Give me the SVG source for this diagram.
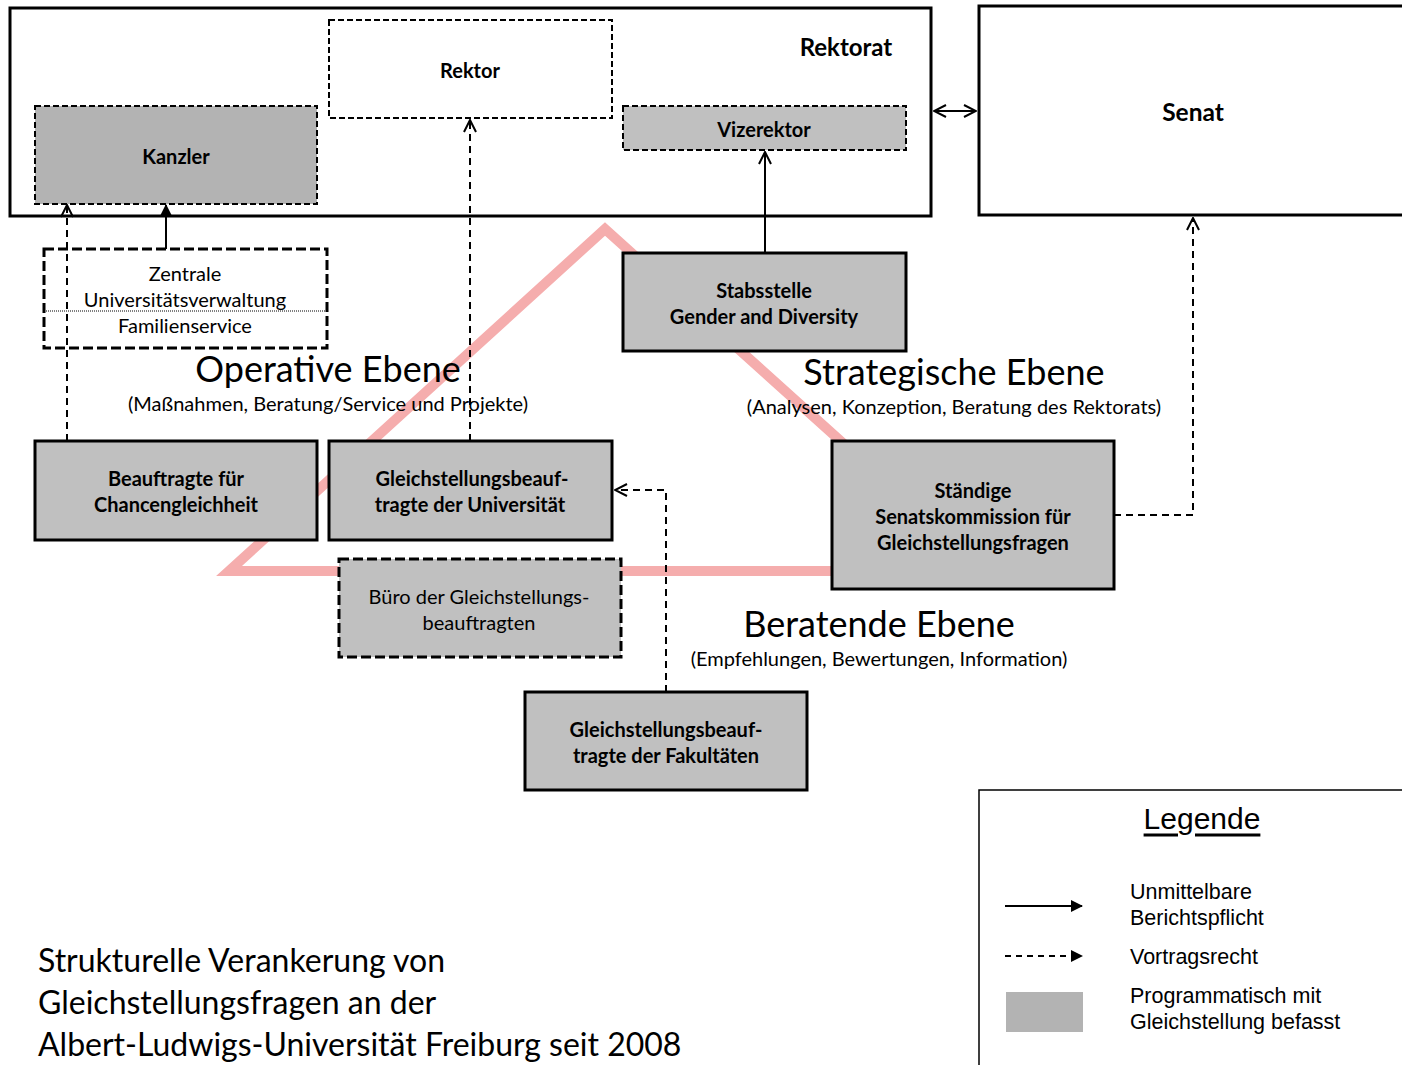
<svg xmlns="http://www.w3.org/2000/svg" width="1402" height="1065" viewBox="0 0 1402 1065">
<style>
.t{font-family:Lato,"Open Sans","Liberation Sans",sans-serif;fill:#000;text-anchor:middle;dominant-baseline:central}
.b{font-weight:bold;font-size:20px}
.n{font-size:20px}
.big{font-size:36px}
.sub{font-size:20px}
.ttl{font-family:Lato,"Open Sans",sans-serif;font-size:32px;fill:#000;dominant-baseline:central}
.a{font-family:"Liberation Sans",Arial,sans-serif;font-size:21.5px;fill:#000;dominant-baseline:central}
.g1{fill:#b3b3b3}
.g2{fill:#c0c0c0}
.solid{stroke:#000;stroke-width:3}
.dash{stroke:#000;stroke-width:2;stroke-dasharray:6 3}
.dash3{stroke:#000;stroke-width:3;stroke-dasharray:10 4}
.c{fill:none;stroke:#000;stroke-width:2}
.cd{fill:none;stroke:#000;stroke-width:2;stroke-dasharray:7 5}
</style>
<defs>
<marker id="open" viewBox="0 0 14 14" refX="13" refY="7" markerWidth="14" markerHeight="14" markerUnits="userSpaceOnUse" orient="auto-start-reverse">
<path d="M1,1 L13,7 L1,13" fill="none" stroke="#000" stroke-width="2"/>
</marker>
<marker id="fill" viewBox="0 0 12 12" refX="11" refY="6" markerWidth="12" markerHeight="12" markerUnits="userSpaceOnUse" orient="auto">
<path d="M0,0 L12,6 L0,12 Z" fill="#000"/>
</marker>
</defs>
<rect width="1402" height="1065" fill="#fff"/>

<g id="triangle">
<polygon points="605,229 229,571 985,571" fill="none" stroke="#f5adad" stroke-width="10" stroke-linejoin="miter"/>
</g>

<g id="rektorat">
<rect x="10" y="8" width="921" height="208" fill="none" class="solid"/>
<text class="t" x="846" y="46" font-weight="bold" font-size="24">Rektorat</text>
</g>
<g id="senat">
<rect x="979" y="6" width="440" height="209" fill="#fff" class="solid"/>
<text class="t" x="1193" y="111" font-weight="bold" font-size="24.5">Senat</text>
</g>
<g id="rektor">
<rect x="329" y="20" width="283" height="98" fill="#fff" class="dash"/>
<text class="t b" x="470" y="70">Rektor</text>
</g>
<g id="kanzler">
<rect x="35" y="106" width="282" height="98" class="g1 dash"/>
<text class="t b" x="176" y="156">Kanzler</text>
</g>
<g id="vizerektor">
<rect x="623" y="106" width="283" height="44" class="g2 dash"/>
<text class="t b" x="764" y="129">Vizerektor</text>
</g>
<g id="zentrale">
<rect x="44" y="249" width="283" height="99" fill="#fff" class="dash3"/>
<line x1="44" y1="311" x2="327" y2="311" stroke="#000" stroke-width="1" stroke-dasharray="1 1"/>
<text class="t n" x="185" y="273">Zentrale</text>
<text class="t n" x="185" y="299">Universitätsverwaltung</text>
<text class="t n" x="185" y="325">Familienservice</text>
</g>
<g id="stabsstelle">
<rect x="623" y="253" width="283" height="98" class="g2 solid"/>
<text class="t b" x="764" y="290">Stabsstelle</text>
<text class="t b" x="764" y="316">Gender and Diversity</text>
</g>
<g id="beauftragte">
<rect x="35" y="441" width="282" height="99" class="g2 solid"/>
<text class="t b" x="176" y="478">Beauftragte für</text>
<text class="t b" x="176" y="504">Chancengleichheit</text>
</g>
<g id="gb-uni">
<rect x="329" y="441" width="283" height="99" class="g2 solid"/>
<text class="t b" x="472" y="478">Gleichstellungsbeauf-</text>
<text class="t b" x="470" y="504">tragte der Universität</text>
</g>
<g id="staendige">
<rect x="832" y="441" width="282" height="148" class="g2 solid"/>
<text class="t b" x="973" y="490">Ständige</text>
<text class="t b" x="973" y="516">Senatskommission für</text>
<text class="t b" x="973" y="542">Gleichstellungsfragen</text>
</g>
<g id="buero">
<rect x="339" y="559" width="282" height="98" class="g2 dash3"/>
<text class="t n" x="479" y="596">Büro der Gleichstellungs-</text>
<text class="t n" x="479" y="622">beauftragten</text>
</g>
<g id="gb-fak">
<rect x="525" y="692" width="282" height="98" class="g2 solid"/>
<text class="t b" x="666" y="729">Gleichstellungsbeauf-</text>
<text class="t b" x="666" y="755">tragte der Fakultäten</text>
</g>

<g id="labels">
<text class="t big" x="328" y="368">Operative Ebene</text>
<text class="t sub" x="328" y="403">(Maßnahmen, Beratung/Service und Projekte)</text>
<text class="t big" x="954" y="371">Strategische Ebene</text>
<text class="t sub" x="954" y="406">(Analysen, Konzeption, Beratung des Rektorats)</text>
<text class="t big" x="879" y="623">Beratende Ebene</text>
<text class="t sub" x="879" y="658">(Empfehlungen, Bewertungen, Information)</text>
</g>

<g id="connectors">
<line x1="934" y1="111" x2="976" y2="111" class="c" marker-start="url(#open)" marker-end="url(#open)"/>
<line x1="166" y1="249" x2="166" y2="205" class="c" marker-end="url(#fill)"/>
<line x1="67" y1="441" x2="67" y2="205" class="cd" marker-end="url(#open)"/>
<line x1="470" y1="441" x2="470" y2="120" class="cd" marker-end="url(#open)"/>
<line x1="765" y1="253" x2="765" y2="152" class="c" marker-end="url(#open)"/>
<polyline points="666,692 666,490 615,490" class="cd" marker-end="url(#open)"/>
<polyline points="1114,515 1193,515 1193,218" class="cd" marker-end="url(#open)"/>
</g>

<g id="legend">
<path d="M979,1065 V790 H1402" fill="none" stroke="#000" stroke-width="1.5"/>
<text x="1202" y="818" font-family="Liberation Sans,Arial,sans-serif" font-size="30" text-anchor="middle" dominant-baseline="central" text-decoration="underline">Legende</text>
<line x1="1005" y1="906" x2="1082" y2="906" class="c" marker-end="url(#fill)"/>
<text class="a" x="1130" y="892">Unmittelbare</text>
<text class="a" x="1130" y="918">Berichtspflicht</text>
<line x1="1005" y1="956" x2="1082" y2="956" class="c" stroke-dasharray="6 5" marker-end="url(#fill)"/>
<text class="a" x="1130" y="957">Vortragsrecht</text>
<rect x="1006" y="992" width="77" height="40" fill="#b3b3b3"/>
<text class="a" x="1130" y="996">Programmatisch mit</text>
<text class="a" x="1130" y="1022">Gleichstellung befasst</text>
</g>

<g id="title">
<text class="ttl" x="38" y="959">Strukturelle Verankerung von</text>
<text class="ttl" x="38" y="1001">Gleichstellungsfragen an der</text>
<text class="ttl" x="38" y="1043">Albert-Ludwigs-Universität Freiburg seit 2008</text>
</g>
</svg>
